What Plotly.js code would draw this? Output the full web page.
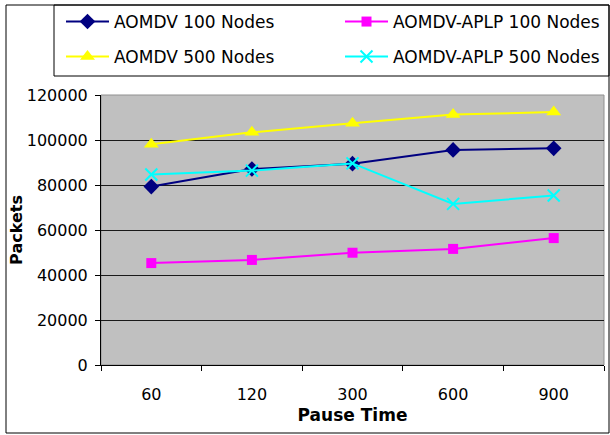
<!DOCTYPE html>
<html><head><meta charset="utf-8">
<script src="https://cdn.plot.ly/plotly-3.0.1.min.js"></script>
<style>html,body{margin:0;padding:0;background:#fff}#chart{width:610px;height:435px}</style>
</head><body><div id="chart"></div>
<script>
const pauseTimes = ["60", "120", "300", "600", "900"];
const aomdv100 = [79300, 87100, 89500, 95600, 96300];
const aplp100 = [45300, 46700, 49900, 51600, 56400];
const aomdv500 = [98100, 103400, 107400, 111300, 112400];
const aplp500 = [84700, 86400, 89600, 71600, 75300];
const yTicks = [0, 20000, 40000, 60000, 80000, 100000, 120000];

const series = [
  {name: "AOMDV 100 Nodes", y: aomdv100, color: "#000080", symbol: "diamond", size: 12, lw: 0, legend: "legend"},
  {name: "AOMDV-APLP 100 Nodes", y: aplp100, color: "#ff00ff", symbol: "square", size: 10, lw: 0, legend: "legend2"},
  {name: "AOMDV 500 Nodes", y: aomdv500, color: "#ffff00", symbol: "triangle-up", size: 13, lw: 0, legend: "legend3"},
  {name: "AOMDV-APLP 500 Nodes", y: aplp500, color: "#00ffff", symbol: "x-thin-open", size: 12, lw: 2, legend: "legend4"}
];
const traces = series.map(t => ({
  type: "scatter", mode: "lines+markers", name: t.name, x: pauseTimes, y: t.y, legend: t.legend,
  line: {color: t.color, width: 2},
  marker: {color: t.color, symbol: t.symbol, size: t.size, line: {color: t.color, width: t.lw}}
}));

const W = 610, H = 435, L = 101, R = 604, T = 95, B = 365;
const px = v => (v - L) / (R - L);
const py = v => (B - v) / (B - T);

const legendBase = {
  orientation: "h", xref: "container", yref: "container",
  xanchor: "left", yanchor: "middle", itemwidth: 43,
  borderwidth: 0, bgcolor: "rgba(0,0,0,0)",
  font: {size: 17, family: "DejaVu Sans, sans-serif", color: "#000"}, traceorder: "normal"
};
const leg = (x, y) => Object.assign({}, legendBase, {x: x / W, y: 1 - y / H});

const layout = {
  width: W, height: H,
  margin: {l: L, r: W - R, t: T, b: H - B},
  paper_bgcolor: "#ffffff",
  plot_bgcolor: "#c0c0c0",
  font: {family: "DejaVu Sans, sans-serif", size: 16, color: "#000"},
  showlegend: true,
  legend: leg(61, 22),
  legend2: leg(340, 22),
  legend3: leg(61, 57),
  legend4: leg(340, 57),
  xaxis: {
    type: "category", range: [-0.5, pauseTimes.length - 0.5], autorange: false,
    tickson: "boundaries", ticks: "outside", ticklen: 5, tickcolor: "#000",
    showline: true, linecolor: "#000", linewidth: 1, showgrid: false, zeroline: false,
    tickfont: {size: 16}, ticklabelstandoff: 15,
    title: {text: "Pause Time", font: {size: 17, weight: "bold"}, standoff: 5}
  },
  yaxis: {
    range: [0, 120000], autorange: false, tickvals: yTicks, ticktext: yTicks.map(String),
    ticks: "outside", ticklen: 5, tickcolor: "#000",
    showline: true, linecolor: "#000", linewidth: 1,
    showgrid: true, gridcolor: "#1a1a1a", gridwidth: 1, zeroline: false,
    tickfont: {size: 16}, ticklabelstandoff: 4,
    title: {text: "Packets", font: {size: 16, weight: "bold"}, standoff: 0}
  },
  shapes: [
    {type: "rect", xref: "paper", yref: "paper", x0: 0, x1: 1, y0: 0, y1: 1, line: {color: "#909090", width: 1}, layer: "below"},
    {type: "rect", xref: "paper", yref: "paper", x0: px(6), x1: px(609), y0: py(433), y1: py(5), line: {color: "#000", width: 1}},
    {type: "rect", xref: "paper", yref: "paper", x0: px(54), x1: px(609), y0: py(76), y1: py(5), line: {color: "#000", width: 1}}
  ]
};

Plotly.newPlot("chart", traces, layout, {displayModeBar: false});
</script></body></html>
